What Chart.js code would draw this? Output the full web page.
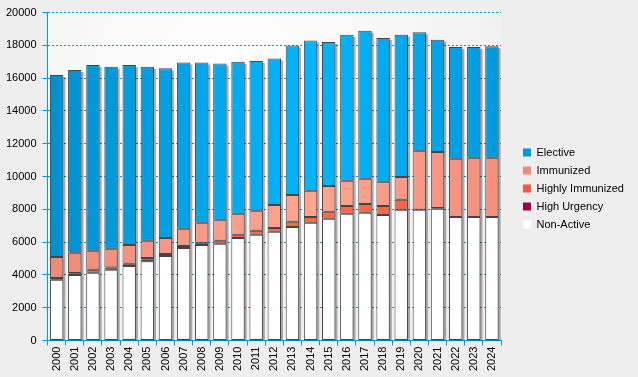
<!DOCTYPE html>
<html>
<head>
<meta charset="utf-8">
<script src="https://cdn.jsdelivr.net/npm/chart.js@4/dist/chart.umd.min.js"></script>
<style>
  body { margin: 0; background: #eeeeee; }
  canvas { display: block; }
</style>
</head>
<body>
<canvas id="transplantChart" width="638" height="377"></canvas>
<script>
const years = ['2000','2001','2002','2003','2004','2005','2006','2007','2008','2009','2010','2011','2012',
               '2013','2014','2015','2016','2017','2018','2019','2020','2021','2022','2023','2024'];

const nonActive = [3700,4000,4130,4310,4550,4840,5160,5650,5830,5900,6260,6450,6630,
                   6930,7180,7420,7730,7790,7660,7970,7970,8030,7540,7540,7540];
const highUrgency = [0,100,0,0,0,100,0,0,0,0,0,0,0,
                     0,0,0,0,0,0,0,0,60,0,0,0];
const highlyImmunized = [120,20,180,140,130,100,120,120,130,180,190,240,240,
                         310,360,430,480,540,550,610,0,0,0,0,0];
const immunized = [1280,1230,1160,1140,1150,1040,980,1040,1220,1280,1280,1220,1400,
                   1640,1590,1580,1530,1530,1470,1400,3600,3410,3540,3600,3600];
const elective = [11100,11150,11330,11110,10970,10620,10340,10140,9770,9540,9270,9140,8930,
                  9120,9170,8770,8910,9040,8770,8670,7230,6850,6820,6760,6810];

const yTicks = [0,2000,4000,6000,8000,10000,12000,14000,16000,18000,20000];

const blue = '#0099dd';
const legendColors = ['#ffffff', '#a0004c', '#f05a40', '#f08a7a', '#0099dd'];

// horizontal gradient across the plot, cached per chart area
const gradCache = {};
function hGradient(chart, key, stops, fallback) {
  const a = chart.chartArea;
  if (!a) return fallback;
  const id = key + a.left + ':' + a.right;
  if (!gradCache[id]) {
    const g = chart.ctx.createLinearGradient(a.left, 0, a.right, 0);
    stops.forEach(s => g.addColorStop(s[0], s[1]));
    gradCache[id] = g;
  }
  return gradCache[id];
}

const plotBackground = {
  id: 'plotBackground',
  beforeDraw(chart) {
    const {ctx, chartArea: a} = chart;
    const g = ctx.createRadialGradient(a.left + a.width * 0.4, a.top + a.height * 0.2, 0,
                                       a.left + a.width * 0.4, a.top + a.height * 0.2, a.width * 0.75);
    g.addColorStop(0, '#ffffff');
    g.addColorStop(1, '#eeeeee');
    ctx.save();
    ctx.fillStyle = g;
    ctx.fillRect(a.left, a.top, a.width, a.height);
    ctx.restore();
  }
};

const barShadow = {
  id: 'barShadow',
  beforeDatasetsDraw(chart) {
    const {ctx, chartArea: a} = chart;
    const metas = chart.getSortedVisibleDatasetMetas();
    ctx.save();
    ctx.beginPath();
    ctx.rect(a.left, a.top, a.width, a.height);
    ctx.clip();
    ctx.fillStyle = 'rgba(0,0,0,0.3)';
    chart.data.labels.forEach((_, i) => {
      let top = Infinity, bottom = -Infinity, x = 0, w = 0;
      metas.forEach(m => {
        const el = m.data[i];
        if (!el) return;
        const p = el.getProps(['x', 'y', 'base', 'width'], true);
        top = Math.min(top, p.y, p.base);
        bottom = Math.max(bottom, p.y, p.base);
        x = p.x; w = p.width;
      });
      ctx.fillRect(x - w / 2 + 2, top + 2, w, bottom - top);
    });
    ctx.restore();
  }
};

// make room between plot and legend
const legendGap = {
  id: 'legendGap',
  beforeUpdate(chart) {
    const lg = chart.legend;
    if (lg && !lg._gapPatched) {
      const fit = lg.fit;
      lg.fit = function () { fit.call(this); this.width = 137; };
      lg._gapPatched = true;
    }
  },
  afterLayout(chart) {
    const lg = chart.legend;
    if (!lg) return;
    lg.left += 15;
    lg.top -= 3;
    lg.bottom -= 3;
  }
};

Chart.defaults.font.family = '"Liberation Sans", Arial, sans-serif';
Chart.defaults.font.size = 11;
Chart.defaults.color = '#000000';

const common = { borderColor: '#444444', borderWidth: 1, borderSkipped: false,
                 categoryPercentage: 1, barPercentage: 0.74 };

const ctx = document.getElementById('transplantChart').getContext('2d');
const chart = new Chart(ctx, {
    type: 'bar',
    data: {
        labels: years,
        datasets: [
            Object.assign({ label: 'Non-Active', data: nonActive, backgroundColor: '#ffffff' }, common),
            Object.assign({ label: 'High Urgency', data: highUrgency, backgroundColor: '#a0004c' }, common),
            Object.assign({ label: 'Highly Immunized', data: highlyImmunized,
                backgroundColor: c => hGradient(c.chart, 'hi', [[0, '#f25c42'], [0.58, '#ff6a4c'], [1, '#f45e44']], '#f86448') }, common),
            Object.assign({ label: 'Immunized', data: immunized,
                backgroundColor: c => hGradient(c.chart, 'im', [[0, '#ee8a78'], [0.58, '#ffa690'], [1, '#f38e7c']], '#f89a86') }, common),
            Object.assign({ label: 'Elective', data: elective,
                backgroundColor: c => hGradient(c.chart, 'el', [[0, '#0090d0'], [0.58, '#00b6fc'], [1, '#009ade']], '#00a6ea') }, common)
        ]
    },
    options: {
        responsive: false,
        animation: false,
        events: [],
        layout: { padding: { left: 0, right: 0, top: 11, bottom: 5 } },
        scales: {
            x: {
                stacked: true,
                grid: { drawOnChartArea: false, drawTicks: true, tickLength: 5, color: blue },
                border: { color: blue, width: 1 },
                ticks: { minRotation: 90, maxRotation: 90, autoSkip: false, padding: 1, color: '#000' }
            },
            y: {
                stacked: true,
                min: 0,
                max: 20000,
                afterBuildTicks: scale => { scale.ticks = yTicks.map(v => ({ value: v })); },
                grid: { color: blue, tickLength: 5, tickBorderDash: [] },
                border: { color: blue, width: 1, dash: [2, 2] },
                ticks: { padding: 6, color: '#000', callback: v => String(v) }
            }
        },
        plugins: {
            tooltip: { enabled: false },
            legend: {
                position: 'right',
                reverse: true,
                labels: {
                    boxWidth: 8,
                    boxHeight: 8,
                    padding: 7,
                    color: '#000',
                    generateLabels: c => Chart.defaults.plugins.legend.labels.generateLabels(c).map(item => {
                        item.fillStyle = legendColors[item.datasetIndex];
                        item.strokeStyle = legendColors[item.datasetIndex];
                        item.lineWidth = 0;
                        return item;
                    })
                }
            }
        }
    },
    plugins: [plotBackground, barShadow, legendGap]
});
</script>
</body>
</html>
